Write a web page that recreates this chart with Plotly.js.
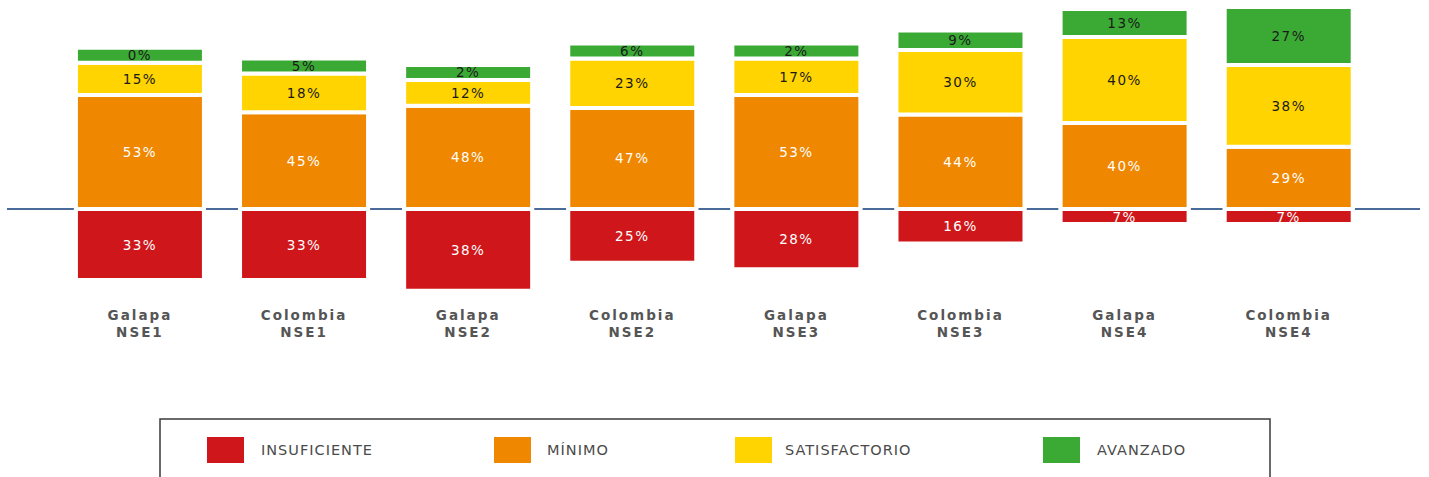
<!DOCTYPE html>
<html>
<head>
<meta charset="utf-8">
<script src="https://cdn.plot.ly/plotly-3.0.1.min.js"></script>
<style>
  html, body { margin: 0; padding: 0; background: #fff; }
  #chart { width: 1429px; height: 477px; }
  .xtick text { letter-spacing: 2px; }
  .bartext { letter-spacing: 1.5px; }
  .annotation-text { letter-spacing: 1px; }
</style>
</head>
<body>
<div id="chart"></div>
<script>
// ---- data ----
const categories = ["Galapa<br>NSE1", "Colombia<br>NSE1", "Galapa<br>NSE2", "Colombia<br>NSE2",
                    "Galapa<br>NSE3", "Colombia<br>NSE3", "Galapa<br>NSE4", "Colombia<br>NSE4"];
const insuficiente  = [33, 33, 38, 25, 28, 16, 7, 7];
const minimo        = [53, 45, 48, 47, 53, 44, 40, 29];
const satisfactorio = [15, 18, 12, 23, 17, 30, 40, 38];
const avanzado      = [0, 5, 2, 6, 2, 9, 13, 27];
const seriesNames   = ["INSUFICIENTE", "MÍNIMO", "SATISFACTORIO", "AVANZADO"];
const seriesColors  = ["#cf171b", "#f08700", "#ffd400", "#3aaa35"];
const textColors    = ["#ffffff", "#ffffff", "#1a1a1a", "#1a1a1a"];

// ---- style / layout ----
const MIN_SEG = 7;            // minimum drawn height so tiny segments stay visible
const W = 1429, H = 477;
const ML = 7, MR = 9, MT = 0, PLOT_H = 300;
const PLOT_W = W - ML - MR;
const px = x => (x - ML) / PLOT_W;
const py = y => 1 - (y - MT) / PLOT_H;

const seriesData = [insuficiente, minimo, satisfactorio, avanzado];
const traces = seriesData.map((vals, i) => ({
  type: "bar",
  name: seriesNames[i],
  x: categories,
  y: vals.map(v => (i === 0 ? -1 : 1) * Math.max(v, MIN_SEG)),
  text: vals.map(v => v + "%"),
  texttemplate: "%{text}",
  textposition: "inside",
  insidetextanchor: "middle",
  constraintext: "none",
  textfont: { family: "DejaVu Sans", size: 13.5, color: textColors[i] },
  marker: { color: seriesColors[i], line: { color: "#ffffff", width: 4 } },
  width: 0.78,
  hoverinfo: "skip",
  showlegend: false
}));

// legend drawn as paper shapes + annotations
const swatchX = [207, 494, 735, 1043];
const labelX  = [259, 545, 783, 1095];
const shapes = [{
  type: "rect", xref: "paper", yref: "paper",
  x0: px(160), x1: px(1270), y0: py(490), y1: py(419),
  line: { color: "#3a3a3a", width: 1.5 }, fillcolor: "rgba(0,0,0,0)"
}];
const annotations = [];
seriesNames.forEach((n, i) => {
  shapes.push({
    type: "rect", xref: "paper", yref: "paper",
    x0: px(swatchX[i]), x1: px(swatchX[i] + 37), y0: py(463), y1: py(437),
    line: { width: 0 }, fillcolor: seriesColors[i]
  });
  annotations.push({
    xref: "paper", yref: "paper", x: px(labelX[i]), y: py(450),
    xanchor: "left", yanchor: "middle", showarrow: false, text: n,
    font: { family: "DejaVu Sans", size: 14.5, color: "#4a4a4a" }
  });
});

const layout = {
  width: W, height: H,
  margin: { l: ML, r: MR, t: MT, b: H - MT - PLOT_H, pad: 0 },
  paper_bgcolor: "#ffffff", plot_bgcolor: "#ffffff",
  barmode: "relative",
  uniformtext: { mode: "show", minsize: 13.5 },
  xaxis: {
    type: "category", range: [-0.81, 7.80],
    showgrid: false, showline: false, zeroline: false, ticks: "",
    ticklabelstandoff: 5,
    tickfont: { family: "DejaVu Sans", size: 13.5, color: "#555555", weight: "bold" }
  },
  yaxis: {
    range: [-42.3, 97.2], showgrid: false, showticklabels: false, ticks: "",
    zeroline: true, zerolinecolor: "#4a6a9a", zerolinewidth: 2, fixedrange: true
  },
  shapes: shapes,
  annotations: annotations,
  showlegend: false
};

Plotly.newPlot("chart", traces, layout, { displayModeBar: false, staticPlot: true });
</script>
</body>
</html>
